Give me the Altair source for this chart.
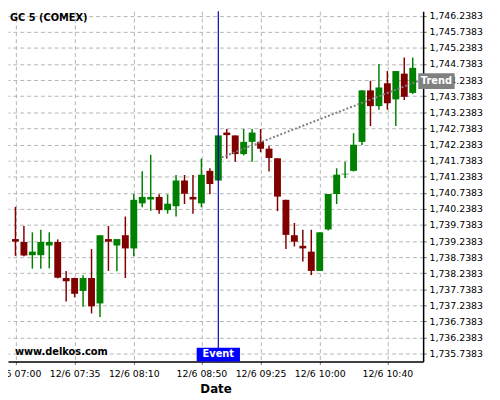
import altair as alt
import pandas as pd

DAY = "2020-12-06"
times = ["07:00", "07:05", "07:10", "07:15", "07:20", "07:25", "07:30", "07:35", "07:40", "07:45", "07:50", "07:55",
         "08:00", "08:05", "08:10", "08:15", "08:20", "08:25", "08:30", "08:35", "08:40", "08:45", "08:50", "08:55",
         "09:00", "09:05", "09:10", "09:15", "09:20", "09:25", "09:30", "09:35", "09:40", "09:45", "09:50", "09:55",
         "10:00", "10:05", "10:10", "10:15", "10:20", "10:25", "10:30", "10:35", "10:40", "10:45", "10:50", "10:55"]

opens = [1739.30, 1739.21, 1738.80, 1738.80, 1739.10, 1739.21, 1738.09, 1738.09, 1737.69, 1738.09, 1737.30, 1739.30,
         1739.10, 1739.42, 1739.01, 1740.41, 1740.53, 1740.61, 1740.20, 1740.32, 1741.12, 1740.61, 1740.41, 1741.42,
         1741.12, 1742.61, 1742.52, 1741.94, 1742.32, 1742.32, 1742.11, 1741.81, 1740.52, 1739.42, 1739.09, 1738.91,
         1738.31, 1739.60, 1740.70, 1741.31, 1741.42, 1742.32, 1743.92, 1743.43, 1744.14, 1743.64, 1744.44, 1743.84]
highs = [1740.30, 1739.71, 1739.51, 1739.59, 1739.51, 1739.29, 1738.31, 1738.10, 1738.18, 1738.99, 1739.42, 1739.71,
         1739.30, 1740.00, 1740.70, 1741.41, 1741.92, 1740.69, 1740.69, 1741.29, 1741.29, 1741.29, 1741.80, 1741.50,
         1742.52, 1742.72, 1742.52, 1742.72, 1742.72, 1742.72, 1742.20, 1741.81, 1740.52, 1739.80, 1739.59, 1739.59,
         1739.51, 1740.70, 1741.50, 1741.70, 1742.59, 1743.92, 1744.22, 1744.74, 1744.52, 1744.52, 1744.94, 1744.94]
lows = [1738.78, 1738.77, 1738.38, 1738.38, 1738.39, 1738.08, 1737.36, 1737.49, 1737.20, 1736.99, 1736.88, 1738.31,
        1738.30, 1738.09, 1738.77, 1740.29, 1740.18, 1740.09, 1740.09, 1740.00, 1740.39, 1740.09, 1740.29, 1740.69,
        1741.12, 1741.80, 1741.70, 1741.90, 1741.70, 1742.00, 1741.40, 1740.17, 1738.99, 1739.07, 1738.60, 1738.18,
        1738.31, 1739.57, 1740.39, 1741.20, 1741.40, 1742.22, 1742.81, 1743.32, 1743.32, 1742.81, 1743.62, 1743.81]
closes = [1739.22, 1738.79, 1738.91, 1739.21, 1739.21, 1738.10, 1737.99, 1737.60, 1738.09, 1737.21, 1739.42, 1739.22,
          1739.30, 1739.01, 1740.52, 1740.61, 1740.61, 1740.20, 1740.40, 1741.12, 1740.71, 1740.53, 1741.30, 1741.01,
          1742.52, 1742.53, 1741.94, 1742.32, 1742.61, 1742.11, 1741.82, 1740.62, 1739.43, 1739.22, 1739.01, 1738.31,
          1739.51, 1740.70, 1741.30, 1741.33, 1742.23, 1743.92, 1743.43, 1744.01, 1743.52, 1744.52, 1743.72, 1744.62]

y_ticks = [1735.7383, 1736.2383, 1736.7383, 1737.2383, 1737.7383, 1738.2383, 1738.7383, 1739.2383,
           1739.7383, 1740.2383, 1740.7383, 1741.2383, 1741.7383, 1742.2383, 1742.7383, 1743.2383,
           1743.7383, 1744.2383, 1744.7383, 1745.2383, 1745.7383, 1746.2383]
x_tick_times = [(7, 0), (7, 35), (8, 10), (8, 50), (9, 25), (10, 0), (10, 40)]

trend_times = ["09:02:00", "10:58:15"]
trend_values = [1741.84, 1744.21]
event_time = "09:00:00"
y_min, y_max = 1735.5, 1746.38

GREEN = "#008000"
RED = "#800000"
FONT = "DejaVu Sans"


def dt(h, m, s=0):
    return alt.DateTime(year=2020, month=12, date=6, hours=h, minutes=m, seconds=s)


df = pd.DataFrame({"t": [f"{DAY}T{t}:00" for t in times], "open": opens, "high": highs,
                   "low": lows, "close": closes})
trend_df = pd.DataFrame({"t": [f"{DAY}T{t}" for t in trend_times], "v": trend_values})
trend_end = trend_df.iloc[[-1]]
event_df = pd.DataFrame({"t": [f"{DAY}T{event_time}"], "ybot": [y_min]})

xscale = alt.Scale(domain=[dt(6, 58, 30), dt(10, 58, 15)])
yscale = alt.Scale(domain=[y_min, y_max], nice=False, zero=False)

xaxis = alt.Axis(values=[dt(h, m) for h, m in x_tick_times], format="%-m/%-d %H:%M", title="Date",
                 labelFlush=False, labelOverlap=False, tickSize=3, labelPadding=4,
                 labelFont=FONT, labelFontSize=9.5, labelColor="black",
                 titleFont=FONT, titleFontSize=12, titleFontWeight="bold", titleColor="black", titlePadding=6,
                 domainColor="black", domainWidth=1.5, tickColor="#666666",
                 grid=True, gridColor="#b4b4b4", gridDash=[4, 3], gridWidth=1)
yaxis = alt.Axis(orient="right", values=y_ticks, format=",.4f", title=None, labelOverlap=False,
                 tickSize=3, labelPadding=3, labelFont=FONT, labelFontSize=9.5, labelColor="black",
                 domainColor="black", domainWidth=1.5, tickColor="#666666",
                 grid=True, gridColor="#b4b4b4", gridDash=[4, 3], gridWidth=1)


def X(field):
    return alt.X(field, type="temporal", scale=xscale, axis=xaxis)


def Y(field):
    return alt.Y(field, type="quantitative", scale=yscale, axis=yaxis)


color = alt.when("datum.open <= datum.close").then(alt.value(GREEN)).otherwise(alt.value(RED))

wicks = alt.Chart(df).mark_rule(strokeWidth=1.5).encode(x=X("t"), y=Y("low"), y2="high", color=color)
bodies = alt.Chart(df).mark_bar(size=7).encode(x=X("t"), y=Y("open"), y2="close", color=color)

trend = alt.Chart(trend_df).mark_line(color="#808080", strokeWidth=2, strokeDash=[2, 2]).encode(
    x=X("t"), y=Y("v"))

event_rule = alt.Chart(event_df).mark_rule(color="#0000c8", strokeWidth=1.2).encode(x=X("t"))
event_box = alt.Chart(event_df).mark_rect(color="#0000ff", xOffset=-22, x2Offset=22,
                                          yOffset=-14, y2Offset=0).encode(
    x=X("t"), x2="t", y=Y("ybot"), y2="ybot")
event_text = alt.Chart(event_df).mark_text(text="Event", color="white", font=FONT, fontSize=10,
                                           fontWeight="bold", dy=-7, baseline="middle").encode(
    x=X("t"), y=Y("ybot"))

trend_box = alt.Chart(trend_end).mark_rect(color="#808080", xOffset=0, x2Offset=37,
                                           yOffset=-8, y2Offset=8).encode(
    x=X("t"), x2="t", y=Y("v"), y2="v")
trend_text = alt.Chart(trend_end).mark_text(text="Trend", color="white", font=FONT, fontSize=10,
                                            fontWeight="bold", dx=18.5, baseline="middle").encode(
    x=X("t"), y=Y("v"))

title_text = alt.Chart(event_df).mark_text(text="GC 5 (COMEX)", font=FONT, fontSize=10, fontWeight="bold",
                                           align="left", baseline="middle", color="black").encode(
    x=alt.value(2), y=alt.value(7))
site_text = alt.Chart(event_df).mark_text(text="www.delkos.com", font=FONT, fontSize=10, fontWeight="bold",
                                          align="left", baseline="middle", color="black").encode(
    x=alt.value(7), y=alt.value(347))

chart = alt.layer(wicks, bodies, trend, event_rule, event_box, event_text, trend_box, trend_text,
                  title_text, site_text).properties(
    width=422, height=356,
    autosize=alt.AutoSizeParams(type="none"),
    padding={"left": 0, "top": 0, "right": 70, "bottom": 36},
    background="white",
).configure_view(stroke=None)

chart.save("out.html", embed_options={"renderer": "svg", "actions": False})
